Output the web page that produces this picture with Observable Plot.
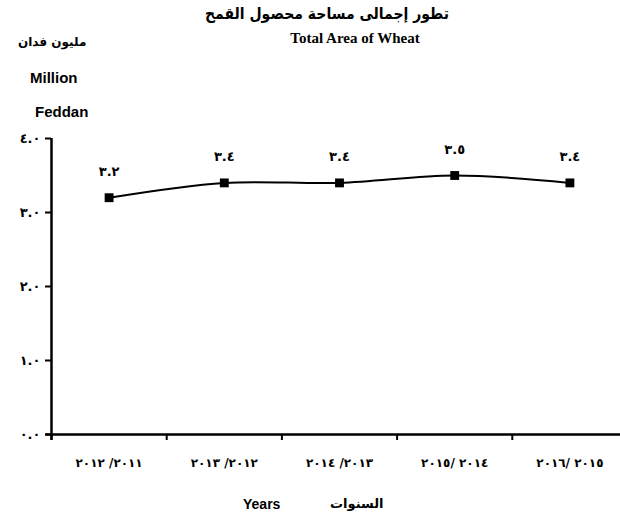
<!DOCTYPE html>
<html>
<head>
<meta charset="utf-8">
<script src="https://cdn.jsdelivr.net/npm/d3@7"></script>
<script src="https://cdn.jsdelivr.net/npm/@observablehq/plot@0.6"></script>
<style>
  html, body { margin: 0; padding: 0; background: #fff; }
  #wrap { position: relative; width: 620px; height: 512px; overflow: hidden; }
  .t { position: absolute; white-space: nowrap; font-weight: bold; color: #000; }
  #chart g[aria-label="x-axis tick label"] text { letter-spacing: 1.6px; }
  #chart g[aria-label="y-axis tick label"] text { letter-spacing: 1px; }
  #chart g[aria-label="text"] text { letter-spacing: 1.5px; }
</style>
</head>
<body>
<div id="wrap">
  <div class="t" style="left:0;width:654px;text-align:center;top:5px;font-family:'DejaVu Sans',sans-serif;font-size:14px;transform:scaleY(1.15);" dir="rtl">تطور إجمالى مساحة محصول القمح</div>
  <div class="t" style="left:0;width:710px;text-align:center;top:30px;font-family:'Liberation Serif',serif;font-size:15px;">Total Area of Wheat</div>
  <div class="t" style="left:18px;top:35px;font-family:'DejaVu Sans',sans-serif;font-size:12px;" dir="rtl">مليون فدان</div>
  <div class="t" style="left:30px;top:69px;font-family:'Liberation Sans',sans-serif;font-size:15px;">Million</div>
  <div class="t" style="left:35px;top:103px;font-family:'Liberation Sans',sans-serif;font-size:15px;">Feddan</div>
  <div class="t" style="left:243px;top:496px;font-family:'Liberation Sans',sans-serif;font-size:14px;">Years</div>
  <div class="t" style="left:330px;top:496px;font-family:'DejaVu Sans',sans-serif;font-size:13px;" dir="rtl">السنوات</div>
  <div id="chart" style="position:absolute;left:0;top:0;"></div>
</div>
<script>
const categories = [
  "\u200E٢٠١٢\u200E /\u200E٢٠١١\u200E",
  "\u200E٢٠١٣\u200E /\u200E٢٠١٢\u200E",
  "\u200E٢٠١٤\u200E /\u200E٢٠١٣\u200E",
  "\u200E٢٠١٥\u200E/ \u200E٢٠١٤\u200E",
  "\u200E٢٠١٦\u200E/ \u200E٢٠١٥\u200E"
];
const values = [3.2, 3.4, 3.4, 3.5, 3.4];
const yTicks = [0, 1, 2, 3, 4];

const arDigits = "٠١٢٣٤٥٦٧٨٩";
const toAr = (v) => v.toFixed(1).replace(/[0-9]/g, d => arDigits[+d]);

const data = categories.map((c, i) => ({pos: i + 0.5, label: c, value: values[i]}));

const plot = Plot.plot({
  width: 620,
  height: 512,
  marginLeft: 51,
  marginRight: 0,
  marginTop: 138,
  marginBottom: 78,
  style: {background: "transparent", fontFamily: "'DejaVu Sans','Liberation Sans',sans-serif", overflow: "visible"},
  x: {type: "linear", domain: [0, categories.length], range: [51, 627]},
  y: {domain: [0, 4]},
  marks: [
    Plot.axisY({ticks: yTicks, tickFormat: toAr, tickSize: 6, tickPadding: 5, fontSize: 13, fontWeight: "bold", stroke: "#000", strokeWidth: 2, label: null}),
    Plot.axisX({ticks: d3.range(0, categories.length + 1), tickFormat: () => "", tickSize: 6, stroke: "#000", strokeWidth: 2, label: null}),
    Plot.axisX({ticks: data.map(d => d.pos), tickFormat: (p) => categories[Math.floor(p)], tickSize: 0, tickPadding: 24, fontSize: 12, fontWeight: "bold", label: null}),
    Plot.ruleX([0], {y1: -0.08, y2: 4, stroke: "#000", strokeWidth: 2.5}),
    Plot.ruleY([0], {x1: -0.05, x2: categories.length, stroke: "#000", strokeWidth: 2.5}),
    Plot.line(data, {x: "pos", y: "value", curve: "catmull-rom", stroke: "#000", strokeWidth: 2}),
    Plot.dot(data, {x: "pos", y: "value", symbol: "square", r: 5, fill: "#000", stroke: "none"}),
    Plot.text(data, {x: "pos", y: "value", text: d => toAr(d.value), dy: -26, fontSize: 13, fontWeight: "bold", fill: "#000"})
  ]
});
document.getElementById("chart").appendChild(plot);
</script>
</body>
</html>
